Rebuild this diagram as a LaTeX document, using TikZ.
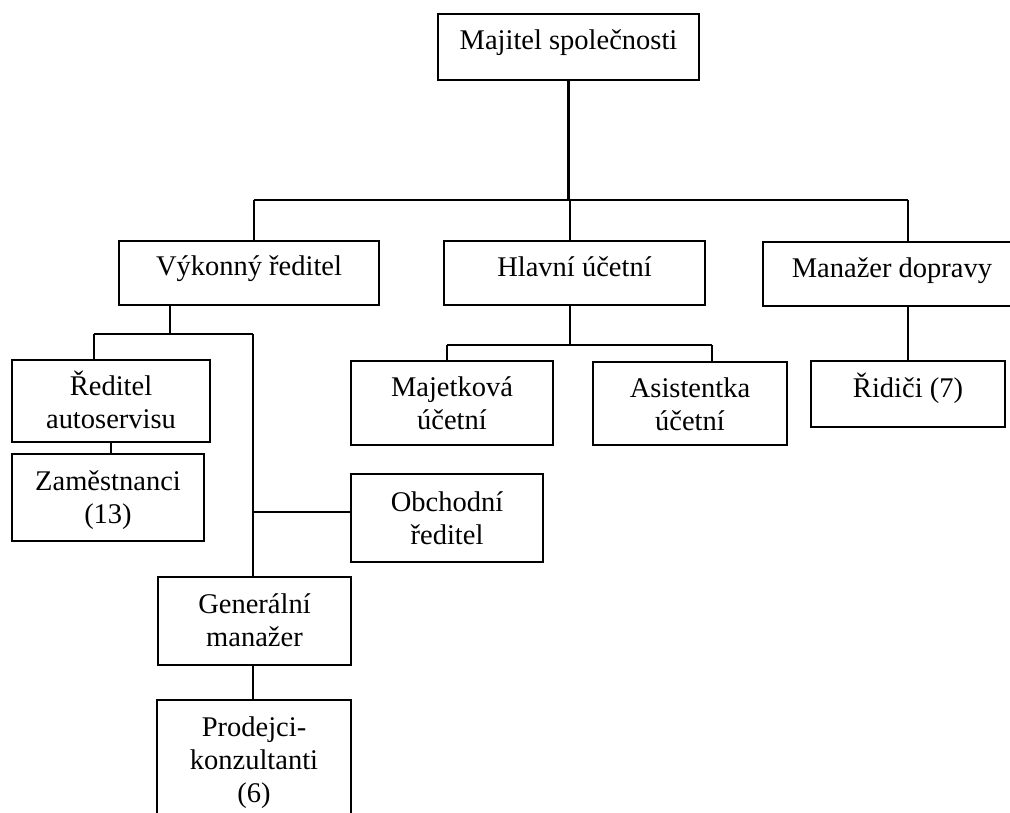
\documentclass[tikz,border=0pt]{standalone}
\usepackage{fontspec}
\setmainfont{Liberation Serif}
\usetikzlibrary{calc}
\newcommand\fl{\rule{0pt}{26pt}}
\begin{document}
\begin{tikzpicture}[x=1pt,y=-1pt,
  box/.style={draw, line width=2.6pt, inner sep=0pt, outer sep=0pt, anchor=north west},
  txt/.style={font=\fontsize{28.5}{33}\selectfont, align=center, inner sep=0pt, outer sep=0pt, anchor=north},
  conn/.style={line width=2.4pt}]
\useasboundingbox (0,0) rectangle (1010,813);
\clip (0,0) rectangle (1010,813);
% boxes
\node[box, minimum width=261pt, minimum height=66pt] (maj) at (438,14) {};
\node[box, minimum width=260pt, minimum height=64pt] (vyk) at (119,241) {};
\node[box, minimum width=261pt, minimum height=64pt] (hla) at (444,241) {};
\node[box, minimum width=258pt, minimum height=64pt] (man) at (763,242) {};
\node[box, minimum width=198pt, minimum height=82pt] (red) at (12,360) {};
\node[box, minimum width=192pt, minimum height=87pt] (zam) at (12,454) {};
\node[box, minimum width=202pt, minimum height=84pt] (maje) at (351,361) {};
\node[box, minimum width=194pt, minimum height=83pt] (asi) at (593,362) {};
\node[box, minimum width=194pt, minimum height=66pt] (rid) at (811,361) {};
\node[box, minimum width=192pt, minimum height=88pt] (obch) at (351,474) {};
\node[box, minimum width=193pt, minimum height=88pt] (gen) at (158,577) {};
\node[box, minimum width=194pt, minimum height=140pt] (pro) at (157,700) {};
% texts
\node[txt] (majt) at ([yshift=-10pt]maj.north) {\fl Majitel společnosti};
\node[txt] (vykt) at ([yshift=-9pt]vyk.north) {\fl Výkonný ředitel};
\node[txt] (hlat) at ([yshift=-10pt]hla.north) {\fl Hlavní účetní};
\node[txt] (mant) at ([yshift=-10pt]man.north) {\fl Manažer dopravy};
\node[txt] (redt) at ([yshift=-9pt]red.north) {\fl Ředitel\\autoservisu};
\node[txt] (zamt) at ([yshift=-10pt]zam.north) {\fl Zaměstnanci\\(13)};
\node[txt] (majet) at ([yshift=-9pt]maje.north) {\fl Majetková\\účetní};
\node[txt] (asit) at ([yshift=-9pt]asi.north) {\fl Asistentka\\účetní};
\node[txt] (ridt) at ([yshift=-10pt]rid.north) {\fl Řidiči (7)};
\node[txt] (obcht) at ([yshift=-11pt]obch.north) {\fl Obchodní\\ředitel};
\node[txt] (gent) at ([yshift=-10pt]gen.north) {\fl Generální\\manažer};
\node[txt] (prot) at ([yshift=-10pt]pro.north) {\fl Prodejci-\\konzultanti\\(6)};
% connector coordinates
\coordinate (b0) at (569,200);
\coordinate (bl) at (254,200);
\coordinate (bm) at (570,200);
\coordinate (br) at (908,200);
\coordinate (v0) at (170,334);
\coordinate (vl) at (94,334);
\coordinate (vr) at (253,334);
\coordinate (vo) at (253,512);
\coordinate (z0) at (111,450);
\coordinate (h0) at (570,345);
\coordinate (hl) at (447,345);
\coordinate (hr) at (712,345);
% connectors
\draw[conn] (maj.south) -- (maj.south |- b0);
\draw[conn] (bl) -- (br);
\draw[conn] (bl) -- (bl |- vyk.north);
\draw[conn] (bm) -- (bm |- hla.north);
\draw[conn] (br) -- (br |- man.north);
\draw[conn] (v0 |- vyk.south) -- (v0);
\draw[conn] (vl) -- (vr);
\draw[conn] (vl) -- (vl |- red.north);
\draw[conn] (vr) -- (vr |- gen.north);
\draw[conn] (vo) -- (vo -| obch.west);
\draw[conn] (z0 |- red.south) -- (z0 |- zam.north);
\draw[conn] (h0 |- hla.south) -- (h0);
\draw[conn] (hl) -- (hr);
\draw[conn] (hl) -- (hl |- maje.north);
\draw[conn] (hr) -- (hr |- asi.north);
\draw[conn] (br |- man.south) -- (br |- rid.north);
\draw[conn] (vr |- gen.south) -- (vr |- pro.north);
\end{tikzpicture}
\end{document}
